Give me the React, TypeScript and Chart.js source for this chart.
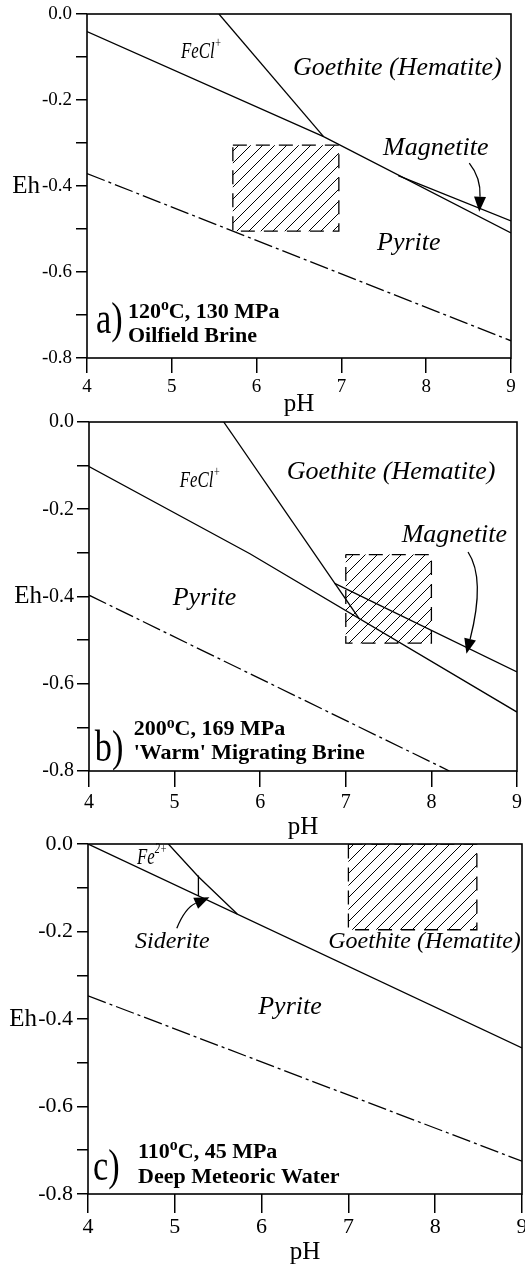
import React, { useEffect, useRef } from 'react';
import { Chart, registerables } from 'chart.js';
Chart.register(...registerables);

// ---------- Panel a: 120 °C, 130 MPa ----------
const aUpperPH = [4, 6.79, 9];
const aUpperEh = [-0.041, -0.285, -0.509];
const aFeClPH = [5.556, 6.79];
const aFeClEh = [0, -0.285];
const aMagPH = [7.67, 9];
const aMagEh = [-0.376, -0.481];
const aDashPH = [4, 9];
const aDashEh = [-0.371, -0.76];
const aBoxPH = [5.72, 6.97];
const aBoxEh = [-0.305, -0.505];

// ---------- Panel b: 200 °C, 169 MPa ----------
const bUpperPH = [4, 5.88, 9];
const bUpperEh = [-0.102, -0.302, -0.665];
const bFeClPH = [5.574, 7.16];
const bFeClEh = [0, -0.452];
const bMagPH = [6.87, 9];
const bMagEh = [-0.37, -0.573];
const bDashPH = [4, 8.21];
const bDashEh = [-0.397, -0.8];
const bBoxPH = [7.0, 8.0];
const bBoxEh = [-0.304, -0.507];

// ---------- Panel c: 110 °C, 45 MPa ----------
const cUpperPH = [4, 9];
const cUpperEh = [0, -0.466];
const cFePH = [4.926, 5.272, 5.72];
const cFeEh = [0, -0.075, -0.16];
const cSidPH = [5.272, 5.272];
const cSidEh = [-0.072, -0.119];
const cDashPH = [4, 9];
const cDashEh = [-0.347, -0.725];
const cBoxPH = [7.0, 8.48];
const cBoxEh = [0, -0.196];

// axis ticks
const phMin = 4;
const phMax = 9;
const ehMin = -0.8;
const ehMax = 0;

type Seg = { t: string; sup?: boolean };
type Label = {
  x: number; y: number; segs: Seg[]; size: number; style: string;
  base: CanvasTextBaseline; sx?: number; supScale?: number;
};
type Arrow = { p0: [number, number]; c: [number, number]; p2: [number, number] };
type Line = { xs: number[]; ys: number[]; dash?: number[] };
type Panel = {
  top: number; height: number;
  area: { left: number; right: number; top: number; bottom: number };
  yTick: number; yPad: number; xTick: number; xPad: number; tickFont: number;
  ehGap: number; phOff: number;
  lines: Line[]; box: { xs: number[]; ys: number[] };
  labels: Label[]; arrow: Arrow;
};

const DASHDOT = [19, 4, 3, 4];

const panels: Panel[] = [
  {
    top: 0, height: 420,
    area: { left: 87, right: 511, top: 14, bottom: 358 },
    yTick: 11, yPad: 4, xTick: 15, xPad: 3, tickFont: 19, ehGap: 47, phOff: 46,
    lines: [
      { xs: aUpperPH, ys: aUpperEh },
      { xs: aFeClPH, ys: aFeClEh },
      { xs: aMagPH, ys: aMagEh },
      { xs: aDashPH, ys: aDashEh, dash: DASHDOT },
    ],
    box: { xs: aBoxPH, ys: aBoxEh },
    labels: [
      { x: 5.108, y: -0.0884, segs: [{ t: 'FeCl' }, { t: '+', sup: true }], size: 24, style: 'italic', base: 'middle', sx: 0.7 },
      { x: 6.429, y: -0.1256, segs: [{ t: 'Goethite (Hematite)' }], size: 26, style: 'italic', base: 'middle' },
      { x: 7.491, y: -0.3116, segs: [{ t: 'Magnetite' }], size: 26, style: 'italic', base: 'middle' },
      { x: 7.42, y: -0.5326, segs: [{ t: 'Pyrite' }], size: 26, style: 'italic', base: 'middle' },
      { x: 4.106, y: -0.7419, segs: [{ t: 'a)' }], size: 44, style: '', base: 'alphabetic', sx: 0.78 },
      { x: 4.483, y: -0.707, segs: [{ t: '120' }, { t: 'o', sup: true }, { t: 'C, 130 MPa' }], size: 22, style: 'bold', base: 'alphabetic', supScale: 0.72 },
      { x: 4.483, y: -0.7628, segs: [{ t: 'Oilfield Brine' }], size: 22, style: 'bold', base: 'alphabetic' },
    ],
    arrow: { p0: [8.508, -0.347], c: [8.646, -0.381], p2: [8.626, -0.46] },
  },
  {
    top: 404, height: 440,
    area: { left: 89, right: 517, top: 18, bottom: 367 },
    yTick: 12, yPad: 3, xTick: 16, xPad: 4, tickFont: 20, ehGap: 47, phOff: 56,
    lines: [
      { xs: bUpperPH, ys: bUpperEh },
      { xs: bFeClPH, ys: bFeClEh },
      { xs: bMagPH, ys: bMagEh },
      { xs: bDashPH, ys: bDashEh, dash: DASHDOT },
    ],
    box: { xs: bBoxPH, ys: bBoxEh },
    labels: [
      { x: 5.06, y: -0.1337, segs: [{ t: 'FeCl' }, { t: '+', sup: true }], size: 24, style: 'italic', base: 'middle', sx: 0.7 },
      { x: 6.31, y: -0.1154, segs: [{ t: 'Goethite (Hematite)' }], size: 26, style: 'italic', base: 'middle' },
      { x: 7.653, y: -0.2599, segs: [{ t: 'Magnetite' }], size: 26, style: 'italic', base: 'middle' },
      { x: 4.978, y: -0.4044, segs: [{ t: 'Pyrite' }], size: 26, style: 'italic', base: 'middle' },
      { x: 4.067, y: -0.7775, segs: [{ t: 'b)' }], size: 44, style: '', base: 'alphabetic', sx: 0.78 },
      { x: 4.522, y: -0.7186, segs: [{ t: '200' }, { t: 'o', sup: true }, { t: 'C, 169 MPa' }], size: 22, style: 'bold', base: 'alphabetic', supScale: 0.72 },
      { x: 4.522, y: -0.772, segs: [{ t: "'Warm' Migrating Brine" }], size: 22, style: 'bold', base: 'alphabetic' },
    ],
    arrow: { p0: [8.428, -0.298], c: [8.633, -0.359], p2: [8.409, -0.531] },
  },
  {
    top: 826, height: 438,
    area: { left: 88, right: 522, top: 18, bottom: 368 },
    yTick: 11, yPad: 4, xTick: 19, xPad: 1, tickFont: 22, ehGap: 51, phOff: 58,
    lines: [
      { xs: cUpperPH, ys: cUpperEh },
      { xs: cFePH, ys: cFeEh },
      { xs: cSidPH, ys: cSidEh },
      { xs: cDashPH, ys: cDashEh, dash: DASHDOT },
    ],
    box: { xs: cBoxPH, ys: cBoxEh },
    labels: [
      { x: 4.565, y: -0.032, segs: [{ t: 'Fe' }, { t: '2+', sup: true }], size: 24, style: 'italic', base: 'middle', sx: 0.7 },
      { x: 4.542, y: -0.2237, segs: [{ t: 'Siderite' }], size: 24, style: 'italic', base: 'middle' },
      { x: 6.768, y: -0.2237, segs: [{ t: 'Goethite (Hematite)' }], size: 24, style: 'italic', base: 'middle' },
      { x: 5.961, y: -0.372, segs: [{ t: 'Pyrite' }], size: 26, style: 'italic', base: 'middle' },
      { x: 4.058, y: -0.767, segs: [{ t: 'c)' }], size: 44, style: '', base: 'alphabetic', sx: 0.78 },
      { x: 4.577, y: -0.7177, segs: [{ t: '110' }, { t: 'o', sup: true }, { t: 'C, 45 MPa' }], size: 22, style: 'bold', base: 'alphabetic', supScale: 0.72 },
      { x: 4.577, y: -0.7747, segs: [{ t: 'Deep Meteoric Water' }], size: 22, style: 'bold', base: 'alphabetic' },
    ],
    arrow: { p0: [5.023, -0.1925], c: [5.119, -0.146], p2: [5.399, -0.1217] },
  },
];

const FONT = '"Liberation Serif", "Times New Roman", serif';
const W = 525;

function pts(xs: number[], ys: number[]) {
  return xs.map((x, i) => ({ x, y: ys[i] }));
}

function hatchPattern(ctx: CanvasRenderingContext2D): CanvasPattern | string {
  const s = 12;
  const c = document.createElement('canvas');
  c.width = s; c.height = s;
  const g = c.getContext('2d');
  if (!g) return 'rgba(0,0,0,0)';
  g.strokeStyle = '#000';
  g.lineWidth = 1;
  g.beginPath();
  g.moveTo(-2, s + 2); g.lineTo(s + 2, -2);
  g.moveTo(-2, 2); g.lineTo(2, -2);
  g.moveTo(s - 2, s + 2); g.lineTo(s + 2, s - 2);
  g.stroke();
  return ctx.createPattern(c, 'repeat') || 'rgba(0,0,0,0)';
}

function drawRich(ctx: CanvasRenderingContext2D, x: number, y: number, l: Label) {
  ctx.save();
  ctx.translate(x, y);
  ctx.scale(l.sx || 1, 1);
  ctx.textBaseline = l.base;
  ctx.textAlign = 'left';
  ctx.fillStyle = '#000';
  let cx = 0;
  for (const s of l.segs) {
    const sz = s.sup ? l.size * (l.supScale || 0.62) : l.size;
    ctx.font = `${l.style} ${sz}px ${FONT}`;
    ctx.fillText(s.t, cx, s.sup ? -l.size * 0.36 : 0);
    cx += ctx.measureText(s.t).width;
  }
  ctx.restore();
}

function makePlugin(p: Panel) {
  return {
    id: 'annot',
    afterDatasetsDraw(chart: any) {
      const ctx: CanvasRenderingContext2D = chart.ctx;
      const xs = chart.scales.x;
      const ys = chart.scales.y;
      const X = (v: number) => xs.getPixelForValue(v);
      const Y = (v: number) => ys.getPixelForValue(v);
      const a = chart.chartArea;
      ctx.save();
      // frame
      ctx.strokeStyle = '#000';
      ctx.lineWidth = 1.6;
      ctx.strokeRect(a.left, a.top, a.right - a.left, a.bottom - a.top);
      // labels
      for (const l of p.labels) drawRich(ctx, X(l.x), Y(l.y), l);
      // arrow
      const p0 = { x: X(p.arrow.p0[0]), y: Y(p.arrow.p0[1]) };
      const c = { x: X(p.arrow.c[0]), y: Y(p.arrow.c[1]) };
      const p2 = { x: X(p.arrow.p2[0]), y: Y(p.arrow.p2[1]) };
      const ang = Math.atan2(p2.y - c.y, p2.x - c.x);
      const L = 15, HW = 6;
      const bx = p2.x - L * Math.cos(ang), by = p2.y - L * Math.sin(ang);
      ctx.lineWidth = 1.3;
      ctx.beginPath();
      ctx.moveTo(p0.x, p0.y);
      ctx.quadraticCurveTo(c.x, c.y, bx, by);
      ctx.stroke();
      ctx.fillStyle = '#000';
      ctx.beginPath();
      ctx.moveTo(p2.x, p2.y);
      ctx.lineTo(bx - HW * Math.sin(ang), by + HW * Math.cos(ang));
      ctx.lineTo(bx + HW * Math.sin(ang), by - HW * Math.cos(ang));
      ctx.closePath();
      ctx.fill();
      // axis titles
      ctx.font = `25px ${FONT}`;
      ctx.textBaseline = 'middle';
      ctx.textAlign = 'right';
      ctx.fillText('Eh', a.left - p.ehGap, Y(-0.4));
      ctx.textAlign = 'center';
      ctx.fillText('pH', (a.left + a.right) / 2, a.bottom + p.phOff);
      ctx.restore();
    },
  };
}

function PanelChart({ p }: { p: Panel }) {
  const ref = useRef<HTMLCanvasElement | null>(null);
  useEffect(() => {
    const canvas = ref.current;
    if (!canvas) return;
    const ctx = canvas.getContext('2d') as CanvasRenderingContext2D;
    const datasets: any[] = p.lines.map((ln) => ({
      data: pts(ln.xs, ln.ys),
      borderColor: '#000',
      borderWidth: 1.3,
      borderDash: ln.dash || [],
      pointRadius: 0,
      fill: false,
      tension: 0,
    }));
    const bx = p.box.xs, by = p.box.ys;
    datasets.push({
      data: pts([bx[0], bx[1], bx[1], bx[0], bx[0]], [by[0], by[0], by[1], by[1], by[0]]),
      borderColor: '#000',
      borderWidth: 1.3,
      borderDash: [14, 9],
      backgroundColor: hatchPattern(ctx),
      pointRadius: 0,
      fill: 'shape',
      tension: 0,
    });
    const tickFont = { family: FONT, size: p.tickFont };
    const chart = new Chart(canvas, {
      type: 'line',
      data: { datasets },
      options: {
        animation: false,
        responsive: false,
        events: [],
        layout: { padding: { left: 0, right: W - p.area.right, top: p.area.top, bottom: 0 } },
        plugins: { legend: { display: false }, tooltip: { enabled: false } },
        scales: {
          x: {
            type: 'linear', min: phMin, max: phMax,
            ticks: { stepSize: 1, color: '#000', font: tickFont, padding: p.xPad, maxRotation: 0, autoSkip: false },
            grid: { drawOnChartArea: false, drawTicks: true, tickLength: p.xTick, color: '#000', lineWidth: 1.5 },
            border: { display: false },
            afterFit: (s: any) => { s.height = p.height - p.area.bottom; s.paddingLeft = 0; s.paddingRight = 0; },
          },
          y: {
            type: 'linear', min: ehMin, max: ehMax,
            ticks: {
              stepSize: 0.1, color: '#000', font: tickFont, padding: p.yPad, autoSkip: false,
              callback: (v: any) => {
                const k = Math.round(Number(v) * 10);
                if (k % 2 !== 0) return '';
                return (k / 10).toFixed(1);
              },
            },
            grid: { drawOnChartArea: false, drawTicks: true, tickLength: p.yTick, color: '#000', lineWidth: 1.5 },
            border: { display: false },
            afterFit: (s: any) => { s.width = p.area.left; s.paddingTop = 0; s.paddingBottom = 0; },
          },
        },
      } as any,
      plugins: [makePlugin(p)],
    });
    return () => chart.destroy();
  }, [p]);
  return (
    <canvas
      ref={ref}
      width={W}
      height={p.height}
      style={{ position: 'absolute', left: 0, top: p.top, width: W, height: p.height }}
    />
  );
}

export default function App() {
  return (
    <div style={{ position: 'absolute', left: 0, top: 0, width: W, height: 1264, background: '#fff' }}>
      {panels.map((p, i) => (
        <PanelChart key={i} p={p} />
      ))}
    </div>
  );
}
